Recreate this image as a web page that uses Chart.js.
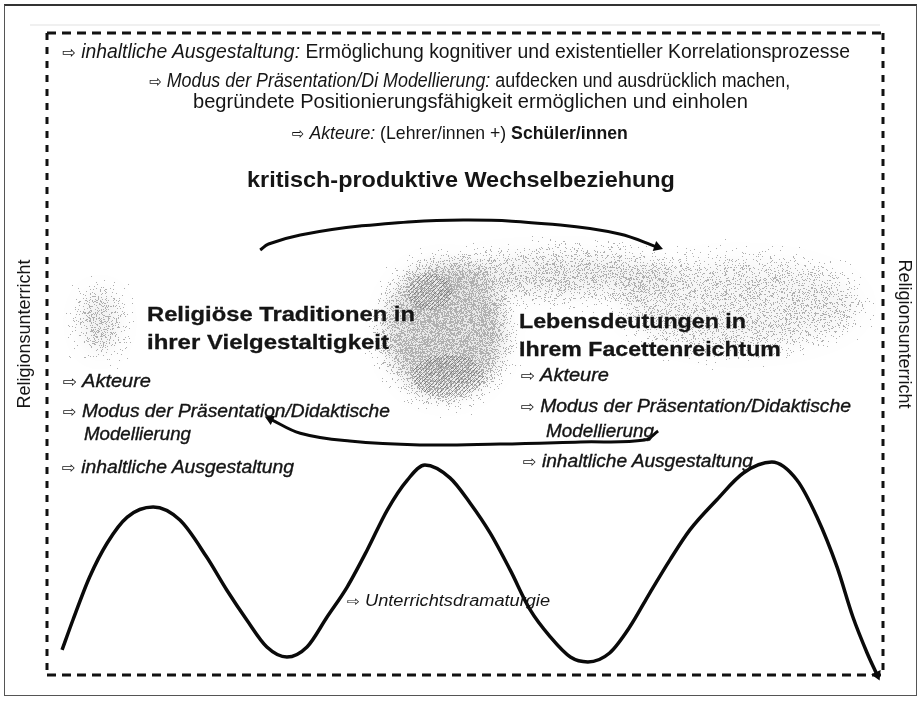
<!DOCTYPE html>
<html lang="de">
<head>
<meta charset="utf-8">
<title>Religionsunterricht – Unterrichtsdramaturgie</title>
<script src="https://cdn.jsdelivr.net/npm/chart.js"></script>
<style>
  body { margin: 0; background: #fff; }
  #wrap { position: relative; width: 922px; height: 702px; overflow: hidden;
          font-family: "Liberation Sans", Arial, sans-serif; color: #151515; }
  #chart { position: absolute; left: 0; top: 0; }
  #frame { position: absolute; left: 4px; top: 4px; width: 913px; height: 692px;
           border: 1.5px solid #555; border-top: 2.5px solid #333; box-sizing: border-box; }
  .t { position: absolute; white-space: nowrap; line-height: 1; transform-origin: 0 50%; }
  .top { font-size: 20px; }
  .top.l4 { font-size: 19px; }
  .head { font-weight: bold; font-size: 22px; }
  .sub { font-weight: bold; font-size: 21px; -webkit-text-stroke: 0.3px #111; }
  .item { font-style: italic; font-size: 18px; -webkit-text-stroke: 0.35px #111; }
  .small { font-style: italic; font-size: 16px; }
  .vert { position: absolute; white-space: nowrap; font-size: 18px; line-height: 1; }
  .ar { font-family: "DejaVu Sans", sans-serif; font-size: 0.85em; font-style: normal; -webkit-text-stroke: 0; }
</style>
</head>
<body>
<div id="wrap">
  <canvas id="chart" width="922" height="702"></canvas>
  <div id="frame"></div>

  <div class="t top" data-x="62" data-y="51" data-w="788"><span class="ar">⇨</span> <i>inhaltliche Ausgestaltung:</i> Ermöglichung kognitiver und existentieller Korrelationsprozesse</div>
  <div class="t top" data-x="149" data-y="80" data-w="641"><span class="ar">⇨</span> <i>Modus der Präsentation/Di Modellierung:</i> aufdecken und ausdrücklich machen,</div>
  <div class="t top" data-x="193" data-y="101" data-w="555">begründete Positionierungsfähigkeit ermöglichen und einholen</div>
  <div class="t top l4" data-x="292" data-y="132" data-w="336"><span class="ar">⇨</span> <i>Akteure:</i> (Lehrer/innen +) <b>Schüler/innen</b></div>
  <div class="t head" data-x="247" data-y="180" data-w="428">kritisch-produktive Wechselbeziehung</div>

  <div class="t sub" data-x="147" data-y="313" data-w="268">Religiöse Traditionen in</div>
  <div class="t sub" data-x="147" data-y="341" data-w="242">ihrer Vielgestaltigkeit</div>
  <div class="t sub" data-x="519" data-y="320" data-w="227">Lebensdeutungen in</div>
  <div class="t sub" data-x="519" data-y="348" data-w="262">Ihrem Facettenreichtum</div>

  <div class="t item" data-x="63" data-y="381" data-w="88"><span class="ar">⇨</span> Akteure</div>
  <div class="t item" data-x="63" data-y="411" data-w="327"><span class="ar">⇨</span> Modus der Präsentation/Didaktische</div>
  <div class="t item" data-x="84" data-y="434" data-w="107">Modellierung</div>
  <div class="t item" data-x="62" data-y="467" data-w="232"><span class="ar">⇨</span> inhaltliche Ausgestaltung</div>

  <div class="t item" data-x="521" data-y="375" data-w="88"><span class="ar">⇨</span> Akteure</div>
  <div class="t item" data-x="521" data-y="406" data-w="330"><span class="ar">⇨</span> Modus der Präsentation/Didaktische</div>
  <div class="t item" data-x="546" data-y="431" data-w="108">Modellierung</div>
  <div class="t item" data-x="523" data-y="461" data-w="230"><span class="ar">⇨</span> inhaltliche Ausgestaltung</div>

  <div class="t small" data-x="347" data-y="601" data-w="203"><span class="ar">⇨</span> Unterrichtsdramaturgie</div>

  <div class="vert" style="left:24px;top:334px;transform:translate(-50%,-50%) rotate(-90deg)">Religionsunterricht</div>
  <div class="vert" style="left:905px;top:334px;transform:translate(-50%,-50%) rotate(90deg)">Religionsunterricht</div>
</div>

<script>
// Unterrichtsdramaturgie: Verlauf (x = Unterrichtszeit 0-100, y = Intensität)
const dramaturgieX = [1.8, 3.1, 5.1, 7.2, 9.6, 12.7, 15.9, 19.1, 21.5, 23.9, 26.3, 28.7, 31.1, 33.5, 35.9,
  38.3, 40.7, 43.1, 45.2, 48.2, 50.6, 53.0, 55.4, 57.8, 60.2, 62.6, 64.7, 67.3, 69.7, 72.1, 74.5,
  76.9, 80.1, 83.3, 86.7, 89.7, 92.1, 94.5, 96.4, 98.1, 99.3];
const dramaturgieY = [11.7, 25.7, 45.8, 61.7, 73.8, 78.5, 72.4, 55.1, 39.7, 25.7, 13.1, 8.4, 13.1, 27.1, 41.1,
  58.4, 77.1, 91.1, 98.1, 92.1, 80.4, 66.4, 49.1, 30.4, 17.8, 8.4, 6.1, 10.3, 22.4, 38.3, 53.7,
  67.8, 81.8, 94.4, 99.5, 91.1, 73.8, 50.5, 27.1, 10.3, 0];

// Wechselbeziehung: oberer und unterer Bogen
const bogenObenX = [25.5, 26.5, 30.3, 37.4, 49.8, 61.4, 68.5, 73.0];
const bogenObenY = [198.6, 201.4, 205.6, 209.8, 212.6, 210.3, 206.1, 200.0];
const bogenUntenX = [26.7, 30.3, 36.2, 44.6, 54.2, 63.8, 71.5, 73.1];
const bogenUntenY = [119.6, 113.0, 109.3, 107.5, 107.9, 108.9, 109.8, 114.0];

function pts(xs, ys) { return xs.map((x, i) => ({ x: x, y: ys[i] })); }

// arrow head on one end of a line, turned along the line
function arrowAt(end) {
  return {
    radius: ctx => {
      const n = ctx.dataset.data.length;
      return (end === 'last' ? ctx.dataIndex === n - 1 : ctx.dataIndex === 0) ? 6 : 0;
    },
    rotation: ctx => {
      const d = ctx.dataset.data, n = d.length;
      const sx = ctx.chart.scales.x, sy = ctx.chart.scales.y;
      let a, b;
      if (end === 'last') { a = d[n - 2]; b = d[n - 1]; } else { a = d[1]; b = d[0]; }
      if (!a || !b) return 0;
      const dx = sx.getPixelForValue(b.x) - sx.getPixelForValue(a.x);
      const dy = sy.getPixelForValue(b.y) - sy.getPixelForValue(a.y);
      return Math.atan2(dy, dx) * 180 / Math.PI + 90;
    }
  };
}

// fixed dither value per pixel, gives the speckled scan look
function dither(x, y) {
  let h = (Math.imul(x, 374761393) + Math.imul(y, 668265263)) | 0;
  h = Math.imul(h ^ (h >>> 13), 1274126177);
  h ^= h >>> 16;
  return (h >>> 0) / 4294967296;
}

const hatch = document.createElement('canvas');
hatch.width = 4; hatch.height = 4;
(function () {
  const h = hatch.getContext('2d');
  h.strokeStyle = 'rgba(40,40,40,1)'; h.lineWidth = 1;
  h.beginPath(); h.moveTo(0, 4); h.lineTo(4, 0); h.stroke();
})();

let speckle = null;
function makeSpeckle(w, h) {
  const off = document.createElement('canvas');
  off.width = w; off.height = h;
  const c = off.getContext('2d');
  c.filter = 'blur(10px)';
  const blobs = [
    [100, 322, 18, 30, 0.35],
    [445, 330, 60, 66, 0.55],
    [560, 275, 115, 20, 0.3],
    [740, 305, 120, 45, 0.2]
  ];
  blobs.forEach(b => {
    c.fillStyle = 'rgba(0,0,0,' + b[4] + ')';
    c.beginPath(); c.ellipse(b[0], b[1], b[2], b[3], 0, 0, Math.PI * 2); c.fill();
  });
  c.filter = 'none';
  const img = c.getImageData(0, 0, w, h), d = img.data;
  for (let y = 0; y < h; y++) {
    for (let x = 0; x < w; x++) {
      const i = (y * w + x) * 4, a = d[i + 3] / 255;
      const on = dither(x, y) < a;
      d[i] = d[i + 1] = d[i + 2] = 100;
      d[i + 3] = on ? 130 : Math.round(a * 70);
    }
  }
  c.putImageData(img, 0, 0);
  c.globalAlpha = 0.4;
  c.fillStyle = c.createPattern(hatch, 'repeat');
  c.beginPath(); c.ellipse(448, 376, 36, 22, 0, 0, Math.PI * 2); c.fill();
  c.beginPath(); c.ellipse(430, 292, 22, 18, 0, 0, Math.PI * 2); c.fill();
  return off;
}

const backdrop = {
  id: 'backdrop',
  beforeDatasetsDraw(chart) {
    const c = chart.ctx;
    if (!speckle) speckle = makeSpeckle(chart.width, chart.height);
    c.drawImage(speckle, 0, 0);

    // faint scan line under the top edge
    c.save();
    c.strokeStyle = 'rgba(0,0,0,0.12)';
    c.lineWidth = 1;
    c.beginPath(); c.moveTo(30, 25); c.lineTo(880, 25); c.stroke();
    c.restore();

    // dashed frame round the lesson
    const a = chart.chartArea;
    c.save();
    c.strokeStyle = '#111';
    c.lineWidth = 3;
    c.setLineDash([9, 6]);
    c.beginPath(); c.moveTo(a.left, a.top); c.lineTo(a.right, a.top); c.stroke();
    c.beginPath(); c.moveTo(a.left, a.bottom); c.lineTo(a.right, a.bottom); c.stroke();
    c.setLineDash([7, 7]);
    c.beginPath(); c.moveTo(a.left, a.top); c.lineTo(a.left, a.bottom); c.stroke();
    c.beginPath(); c.moveTo(a.right, a.top); c.lineTo(a.right, a.bottom); c.stroke();
    c.restore();
  }
};

const lineStyle = {
  borderColor: '#0a0a0a',
  backgroundColor: '#0a0a0a',
  fill: false,
  pointStyle: 'triangle',
  pointBorderWidth: 0,
  clip: false
};

new Chart(document.getElementById('chart'), {
  type: 'line',
  data: {
    datasets: [
      Object.assign({ label: 'Unterrichtsdramaturgie', data: pts(dramaturgieX, dramaturgieY),
        borderWidth: 3.5, cubicInterpolationMode: 'monotone',
        pointRadius: arrowAt('last').radius, pointRotation: arrowAt('last').rotation }, lineStyle),
      Object.assign({ label: 'Wechselbeziehung oben', data: pts(bogenObenX, bogenObenY),
        borderWidth: 3, tension: 0.4,
        pointRadius: arrowAt('last').radius, pointRotation: arrowAt('last').rotation }, lineStyle),
      Object.assign({ label: 'Wechselbeziehung unten', data: pts(bogenUntenX, bogenUntenY),
        borderWidth: 3, tension: 0.4,
        pointRadius: arrowAt('first').radius, pointRotation: arrowAt('first').rotation }, lineStyle)
    ]
  },
  plugins: [backdrop],
  options: {
    responsive: false,
    animation: false,
    layout: { padding: { left: 47, right: 39, top: 33, bottom: 27 } },
    scales: {
      x: { type: 'linear', min: 0, max: 100, display: false },
      y: { type: 'linear', min: 0, max: 300, display: false }
    },
    plugins: { legend: { display: false }, tooltip: { enabled: false } }
  }
});

// place the text lines and squeeze them to the widths of the original
document.querySelectorAll('.t').forEach(el => {
  el.style.left = el.dataset.x + 'px';
  el.style.top = (el.dataset.y - el.offsetHeight / 2) + 'px';
  const w = el.getBoundingClientRect().width;
  el.style.transform = 'scaleX(' + (el.dataset.w / w).toFixed(3) + ')';
});
</script>
</body>
</html>
